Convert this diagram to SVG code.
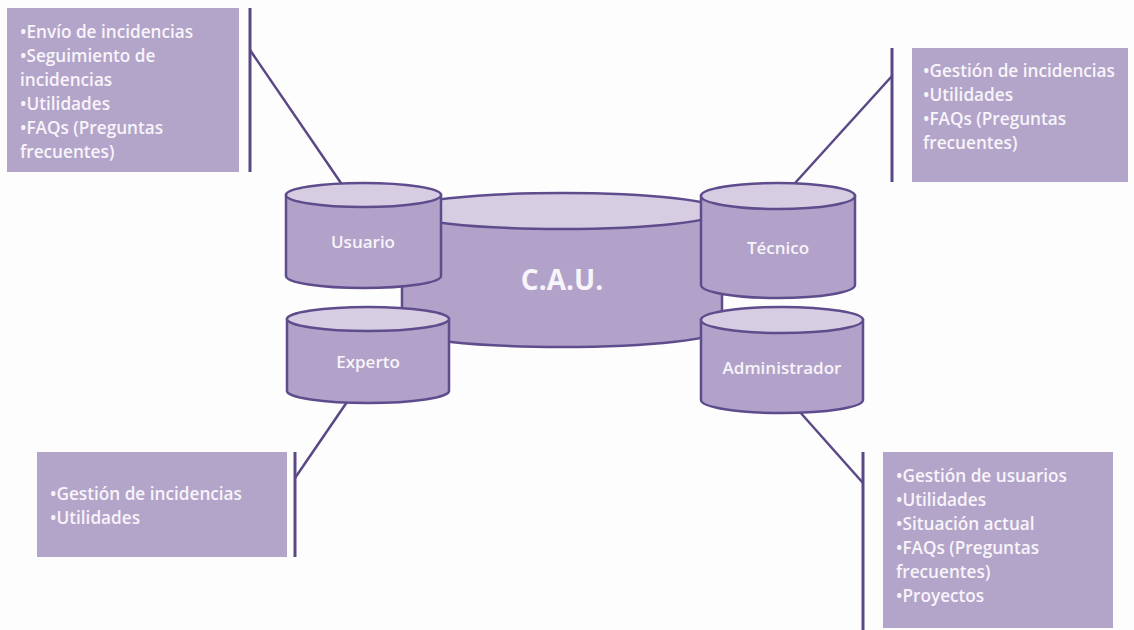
<svg xmlns="http://www.w3.org/2000/svg" width="1134" height="630" viewBox="0 0 1134 630">
<style>
.box{fill:#b3a4c9;}
.bt{font-family:"Open Sans","Liberation Sans",sans-serif;font-size:17.2px;font-weight:600;fill:#f7f4fa;}
.body{fill:#b2a2c9;stroke:#5f4c8c;stroke-width:2.5;}
.top{fill:#d6cde3;stroke:#5f4c8c;stroke-width:2.5;}
.lbl{font-family:"Open Sans","Liberation Sans",sans-serif;font-size:17px;font-weight:600;fill:#f7f4fa;text-anchor:middle;}
.big{font-family:"Open Sans","Liberation Sans",sans-serif;font-size:28px;font-weight:700;fill:#f7f4fa;text-anchor:middle;}
.ln{stroke:#5a4886;stroke-width:2.5;fill:none;}
.bar{stroke:#5a4886;stroke-width:3;fill:none;}
</style>
<rect width="1134" height="630" fill="#fdfdfd"/>
<g id="connectors">
<line class="bar" x1="250" y1="8" x2="250" y2="172"/>
<line class="ln" x1="250" y1="50" x2="343" y2="186"/>
<line class="bar" x1="892" y1="48" x2="892" y2="182"/>
<line class="ln" x1="892" y1="76" x2="786" y2="193"/>
<line class="bar" x1="295" y1="452" x2="295" y2="557"/>
<line class="ln" x1="295" y1="478" x2="347" y2="402"/>
<line class="bar" x1="863" y1="452" x2="863" y2="630"/>
<line class="ln" x1="799" y1="411" x2="863" y2="483"/>
</g>
<g id="box-usuario">
<rect class="box" x="7" y="8" width="232" height="164"/>
<text class="bt" x="20" y="38">•Envío de incidencias</text>
<text class="bt" x="20" y="62">•Seguimiento de</text>
<text class="bt" x="20" y="86">incidencias</text>
<text class="bt" x="20" y="110">•Utilidades</text>
<text class="bt" x="20" y="134">•FAQs (Preguntas</text>
<text class="bt" x="20" y="158">frecuentes)</text>
</g>
<g id="box-tecnico">
<rect class="box" x="912" y="48" width="216" height="134"/>
<text class="bt" x="923" y="77">•Gestión de incidencias</text>
<text class="bt" x="923" y="101">•Utilidades</text>
<text class="bt" x="923" y="125">•FAQs (Preguntas</text>
<text class="bt" x="923" y="149">frecuentes)</text>
</g>
<g id="box-experto">
<rect class="box" x="37" y="452" width="250" height="105"/>
<text class="bt" x="50" y="500">•Gestión de incidencias</text>
<text class="bt" x="50" y="524">•Utilidades</text>
</g>
<g id="box-administrador">
<rect class="box" x="883" y="452" width="230" height="176"/>
<text class="bt" x="896" y="482">•Gestión de usuarios</text>
<text class="bt" x="896" y="506">•Utilidades</text>
<text class="bt" x="896" y="530">•Situación actual</text>
<text class="bt" x="896" y="554">•FAQs (Preguntas</text>
<text class="bt" x="896" y="578">frecuentes)</text>
<text class="bt" x="896" y="602">•Proyectos</text>
</g>
<g id="cau">
<path class="body" d="M402,211 L402,329 A160,18 0 0 0 722,329 L722,211 Z"/>
<ellipse class="top" cx="562" cy="211" rx="160" ry="18"/>
<text class="big" x="562" y="290">C.A.U.</text>
</g>
<g id="usuario">
<path class="body" d="M286,195 L286,276 A77.5,12 0 0 0 441,276 L441,195 Z"/>
<ellipse class="top" cx="363.5" cy="195" rx="77.5" ry="12"/>
<text class="lbl" x="363" y="248">Usuario</text>
</g>
<g id="experto">
<path class="body" d="M287,319 L287,391 A81,12 0 0 0 449,391 L449,319 Z"/>
<ellipse class="top" cx="368" cy="319" rx="81" ry="12"/>
<text class="lbl" x="368" y="368">Experto</text>
</g>
<g id="tecnico">
<path class="body" d="M701,196 L701,285 A77,13 0 0 0 855,285 L855,196 Z"/>
<ellipse class="top" cx="778" cy="196" rx="77" ry="13"/>
<text class="lbl" x="778" y="254">Técnico</text>
</g>
<g id="administrador">
<path class="body" d="M701,320 L701,400 A81,13 0 0 0 863,400 L863,320 Z"/>
<ellipse class="top" cx="782" cy="320" rx="81" ry="13"/>
<text class="lbl" x="782" y="374">Administrador</text>
</g>
</svg>
